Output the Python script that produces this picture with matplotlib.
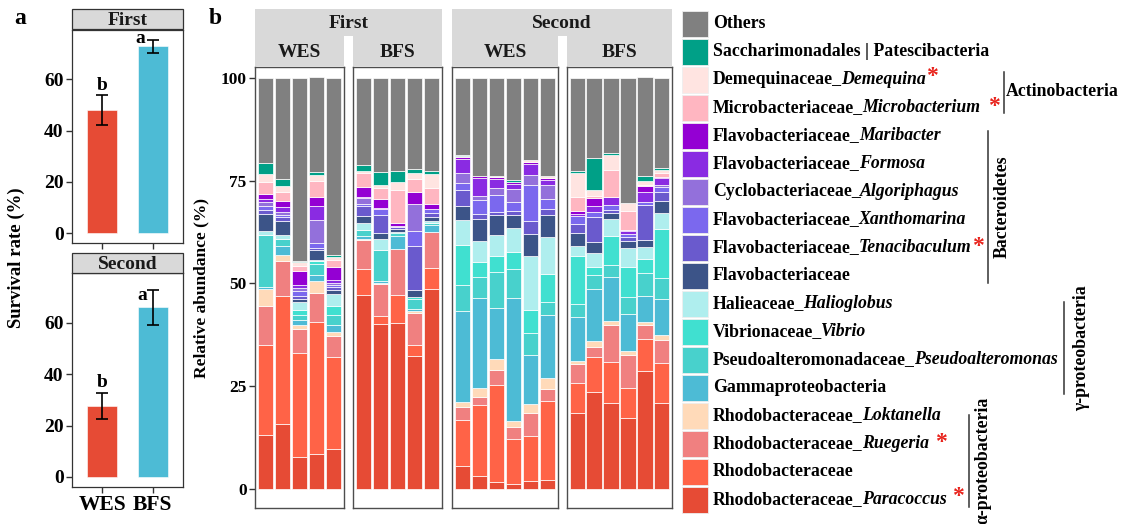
import numpy as np
import matplotlib
matplotlib.use('Agg')
import matplotlib.pyplot as plt
from matplotlib.lines import Line2D
from matplotlib.patches import Rectangle

plt.rcParams['font.family'] = ['Liberation Serif', 'DejaVu Serif']
plt.rcParams['font.weight'] = 'bold'

W, H = 1126, 524

# ---- panel a: survival rate ----
groups = ['WES', 'BFS']
rounds = ['First', 'Second']
survival_first = [48.0, 73.0]
survival_first_sd = [5.8, 2.5]
survival_second = [27.5, 66.0]
survival_second_sd = [5.0, 6.8]
letters_first = ['b', 'a']
letters_second = ['b', 'a']

# ---- panel b: relative abundance (%) ----
# samples: First-WES x5, First-BFS x5, Second-WES x6, Second-BFS x6
facet_rounds = ['First', 'First', 'Second', 'Second']
facet_groups = ['WES', 'BFS', 'WES', 'BFS']
facet_sizes = [5, 5, 6, 6]

paracoccus = [13.1, 15.8, 7.7, 8.5, 9.7, 47.2, 40.2, 40.4, 32.4, 48.6, 5.6, 3.2, 1.7, 1.2, 1.9, 2.2, 18.4, 23.5, 20.9, 17.2, 28.6, 20.9]
rhodobacteraceae = [21.9, 31.1, 25.3, 32.2, 22.4, 6.4, 1.8, 6.7, 2.7, 5.2, 11.2, 17.3, 23.6, 11.0, 11.0, 19.3, 7.5, 8.5, 9.9, 7.3, 7.9, 9.7]
ruegeria = [9.5, 8.5, 5.8, 6.9, 5.2, 6.9, 7.9, 11.2, 7.7, 8.8, 3.2, 1.8, 3.7, 2.8, 5.6, 2.8, 4.5, 2.5, 9.0, 8.1, 3.5, 5.7]
loktanella = [4.1, 1.6, 1.1, 3.0, 0.8, 0.4, 0.2, 0.0, 0.4, 0.0, 1.2, 2.3, 2.7, 1.5, 2.3, 2.8, 0.7, 1.4, 1.1, 1.0, 0.6, 1.1]
gammaproteobacteria = [0.4, 2.0, 1.3, 1.5, 1.9, 0.5, 0.6, 3.1, 0.6, 1.6, 22.2, 21.8, 12.2, 30.0, 11.8, 15.3, 10.8, 12.8, 10.6, 9.0, 6.4, 8.8]
pseudoalteromonas = [12.7, 1.8, 1.0, 2.7, 2.4, 1.5, 7.5, 0.8, 2.4, 0.6, 6.3, 5.2, 8.8, 7.1, 5.3, 3.0, 3.2, 3.4, 3.0, 4.2, 5.5, 5.0]
vibrio = [0.0, 0.0, 1.3, 0.7, 2.2, 0.0, 0.0, 0.4, 0.5, 0.0, 9.6, 3.7, 3.9, 4.0, 5.7, 7.0, 11.6, 1.9, 6.9, 7.3, 3.4, 12.1]
halioglobus = [1.1, 0.9, 1.9, 0.3, 2.9, 1.8, 2.6, 0.0, 0.0, 0.4, 6.1, 5.0, 5.1, 5.9, 13.0, 8.8, 2.4, 3.4, 4.2, 4.6, 2.9, 3.9]
flavobacteriaceae = [4.1, 3.4, 0.8, 2.3, 1.0, 1.6, 1.5, 0.5, 1.8, 0.9, 3.4, 5.4, 4.9, 3.2, 5.3, 5.4, 3.2, 2.6, 1.5, 1.5, 1.8, 2.8]
tenacibaculum = [1.0, 1.0, 0.8, 0.6, 0.6, 2.4, 4.3, 0.5, 10.7, 1.1, 3.9, 1.2, 0.7, 1.0, 3.2, 1.6, 2.1, 6.2, 0.8, 1.0, 8.5, 2.2]
xanthomarina = [0.8, 0.6, 1.1, 1.1, 0.4, 0.6, 1.4, 0.0, 3.5, 1.0, 1.8, 3.3, 4.3, 2.0, 8.7, 2.2, 1.9, 1.2, 1.1, 0.9, 0.8, 1.2]
algoriphagus = [1.0, 0.6, 0.8, 5.7, 0.6, 1.4, 0.0, 0.4, 6.5, 0.0, 2.4, 1.1, 1.6, 3.2, 2.5, 3.4, 0.0, 0.0, 0.0, 0.0, 0.0, 0.6]
formosa = [0.8, 1.2, 0.8, 3.2, 0.8, 0.4, 0.4, 0.0, 0.0, 0.0, 3.4, 4.3, 2.2, 1.3, 2.8, 1.3, 0.6, 1.4, 1.9, 0.6, 2.2, 1.6]
maribacter = [1.3, 1.5, 3.4, 2.4, 3.2, 2.3, 2.0, 0.6, 3.1, 1.2, 0.5, 0.4, 0.5, 0.5, 0.3, 0.4, 0.6, 2.0, 0.2, 0.3, 1.5, 0.2]
microbacterium = [2.9, 2.2, 1.2, 3.8, 1.6, 3.4, 2.8, 8.0, 3.0, 3.7, 0.2, 0.0, 0.0, 0.0, 0.0, 0.0, 3.6, 0.4, 6.5, 4.5, 0.2, 1.0]
demequina = [2.0, 1.4, 0.8, 1.5, 0.8, 0.6, 0.6, 2.1, 1.6, 3.5, 0.0, 0.2, 0.3, 0.0, 0.6, 0.6, 5.7, 1.4, 3.7, 2.0, 1.1, 0.8]
saccharimonadales = [2.6, 1.8, 0.3, 0.6, 0.4, 1.4, 3.2, 2.6, 0.8, 0.8, 0.2, 0.0, 0.0, 0.4, 0.0, 0.0, 0.4, 7.8, 0.5, 0.0, 1.1, 0.4]
others = [20.7, 24.6, 44.6, 23.1, 43.0, 21.1, 23.0, 22.7, 22.3, 22.5, 18.8, 23.8, 23.8, 24.8, 19.9, 23.9, 22.8, 19.6, 18.2, 30.4, 24.1, 21.9]

# bottom -> top stacking order, with legend text (plain part, italic part)
taxa = [
    (paracoccus, '#E64B35', 'Rhodobacteraceae_', 'Paracoccus'),
    (rhodobacteraceae, '#FF6347', 'Rhodobacteraceae', ''),
    (ruegeria, '#F08080', 'Rhodobacteraceae_', 'Ruegeria'),
    (loktanella, '#FFDAB9', 'Rhodobacteraceae_', 'Loktanella'),
    (gammaproteobacteria, '#4DBBD5', 'Gammaproteobacteria', ''),
    (pseudoalteromonas, '#48D1CC', 'Pseudoalteromonadaceae_', 'Pseudoalteromonas'),
    (vibrio, '#40E0D0', 'Vibrionaceae_', 'Vibrio'),
    (halioglobus, '#AFEEEE', 'Halieaceae_', 'Halioglobus'),
    (flavobacteriaceae, '#3C5488', 'Flavobacteriaceae', ''),
    (tenacibaculum, '#6A5ACD', 'Flavobacteriaceae_', 'Tenacibaculum'),
    (xanthomarina, '#7B68EE', 'Flavobacteriaceae_', 'Xanthomarina'),
    (algoriphagus, '#9370DB', 'Cyclobacteriaceae_', 'Algoriphagus'),
    (formosa, '#8A2BE2', 'Flavobacteriaceae_', 'Formosa'),
    (maribacter, '#9400D3', 'Flavobacteriaceae_', 'Maribacter'),
    (microbacterium, '#FFB6C1', 'Microbacteriaceae_', 'Microbacterium'),
    (demequina, '#FFE4E1', 'Demequinaceae_', 'Demequina'),
    (saccharimonadales, '#00A087', 'Saccharimonadales | Patescibacteria', ''),
    (others, '#808080', 'Others', ''),
]

FS = 12.8
STRIP = '#D9D9D9'


def fx(px):
    return px / W


def fy(py):
    return 1 - py / H


def add_axes_px(x0, y0, x1, y1):
    return fig.add_axes([fx(x0), fy(y1), fx(x1) - fx(x0), fy(y0) - fy(y1)])


def strip(x0, y0, x1, y1, label, edge=None, size=14):
    r = Rectangle((fx(x0), fy(y1)), fx(x1) - fx(x0), fy(y0) - fy(y1),
                  transform=fig.transFigure, facecolor=STRIP,
                  edgecolor=edge if edge else 'none', linewidth=0.9)
    fig.add_artist(r)
    fig.text(fx((x0 + x1) / 2), fy((y0 + y1) / 2) - 0.002, label,
             ha='center', va='center', fontsize=size, fontweight='bold',
             color='#1a1a1a')


fig = plt.figure(figsize=(W / 100, H / 100), dpi=100)

# ---------------- panel a ----------------
pa_boxes = [(30, 243, 9, 29), (273, 487, 253, 273)]
pa_vals = [survival_first, survival_second]
pa_sds = [survival_first_sd, survival_second_sd]
pa_letters = [letters_first, letters_second]
pa_letter_pos = [[(1.0, 57.8), (1.76, 76.0)], [(1.0, 36.8), (1.8, 70.4)]]
for i in range(2):
    y0, y1, s0, s1 = pa_boxes[i]
    ax = add_axes_px(72, y0, 183, y1)
    xs = np.arange(1, 3)
    ax.bar(xs, pa_vals[i], width=0.6, color=['#E64B35', '#4DBBD5'],
           edgecolor='white', linewidth=0.4)
    ax.errorbar(xs, pa_vals[i], yerr=pa_sds[i], fmt='none', ecolor='black',
                elinewidth=1.2, capsize=4.5, capthick=1.2)
    for (lx, ly), t in zip(pa_letter_pos[i], pa_letters[i]):
        ax.text(lx, ly, t, ha='center', va='center', fontsize=14,
                fontweight='bold')
    ax.set_xlim(0.4, 2.6)
    ax.set_ylim(-3.9, 79.3)
    ax.set_yticks([0, 20, 40, 60])
    ax.set_xticks(xs)
    ax.set_xticklabels(groups if i == 1 else ['', ''])
    ax.tick_params(labelsize=14, width=1, length=4, color='#333333', pad=2)
    for lab in ax.get_yticklabels() + ax.get_xticklabels():
        lab.set_fontweight('bold')
    ax.tick_params(axis='x', labelsize=15.5, pad=2)
    for sp in ax.spines.values():
        sp.set_color('#333333')
        sp.set_linewidth(0.9)
    strip(72, s0, 183, s1, rounds[i], edge='#333333')

fig.text(fx(16), fy(258), 'Survival rate (%)', rotation=90, ha='center',
         va='center', fontsize=13.5, fontweight='bold')
fig.text(fx(20), fy(18), 'a', ha='center', va='center', fontsize=17,
         fontweight='bold')
fig.text(fx(215), fy(18), 'b', ha='center', va='center', fontsize=17,
         fontweight='bold')

# ---------------- panel b ----------------
facet_x = [(255, 344), (353, 442), (452, 558), (567, 672)]
start = 0
for k, n in enumerate(facet_sizes):
    x0, x1 = facet_x[k]
    ax = add_axes_px(x0, 67, x1, 508)
    xs = np.arange(1, n + 1)
    bottom = np.zeros(n)
    for vals, col, _, _ in taxa:
        v = np.array(vals[start:start + n])
        ax.bar(xs, v, bottom=bottom, width=0.9, color=col,
               edgecolor='white', linewidth=0.5)
        bottom += v
    start += n
    ax.set_xlim(0.4, n + 0.6)
    ax.set_ylim(-4.6, 102.6)
    ax.set_xticks([])
    if k == 0:
        ax.set_yticks([0, 25, 50, 75, 100])
        ax.tick_params(axis='y', labelsize=12.5, width=1, length=4,
                       color='#333333', pad=2)
        for lab in ax.get_yticklabels():
            lab.set_fontweight('bold')
        ax.set_ylabel('Relative abundance (%)', fontsize=12.5,
                      fontweight='bold', labelpad=8)
    else:
        ax.set_yticks([])
    for sp in ax.spines.values():
        sp.set_color('#4d4d4d')
        sp.set_linewidth(1.0)
    strip(x0, 36, x1, 66, facet_groups[k])

strip(255, 9, 442, 36, 'First')
strip(452, 9, 672, 36, 'Second')

# ---------------- legend ----------------
fig.canvas.draw()
renderer = fig.canvas.get_renderer()
legend_items = taxa[::-1]
for j, (_, col, plain, ital) in enumerate(legend_items):
    cy = 24 + j * 28
    fig.add_artist(Rectangle((fx(682), fy(cy + 13)), fx(26), 26 / H,
                             transform=fig.transFigure, facecolor=col,
                             edgecolor='#eeeeee', linewidth=0.6))
    t = fig.text(fx(713), fy(cy), plain, ha='left', va='center',
                 fontsize=FS, fontweight='bold')
    if ital:
        bb = t.get_window_extent(renderer)
        fig.text((bb.x1 - 1) / W, fy(cy), ital, ha='left', va='center',
                 fontsize=FS, fontweight='bold', style='italic')

# significance stars
for sx, sy in [(932, 77), (994, 106), (978, 246), (941, 442), (958, 496)]:
    fig.text(fx(sx), fy(sy), '*', ha='center', va='center', fontsize=17,
             color='#E8231C', fontweight='bold')

# phylum brackets
brackets = [
    (1004, 72, 113),
    (988, 131, 283),
    (1064, 302, 394),
    (969, 415, 507),
]
for bx, b0, b1 in brackets:
    fig.add_artist(Line2D([fx(bx), fx(bx)], [fy(b0), fy(b1)],
                          transform=fig.transFigure, color='#333333',
                          linewidth=1.1))
fig.text(fx(1006), fy(92), 'Actinobacteria', ha='left', va='center',
         fontsize=FS, fontweight='bold')
fig.text(fx(1002), fy(207), 'Bacteroidetes', rotation=90, ha='center',
         va='center', fontsize=FS, fontweight='bold')
fig.text(fx(1082), fy(348), 'γ-proteobacteria', rotation=90, ha='center',
         va='center', fontsize=FS, fontweight='bold')
fig.text(fx(983), fy(460), 'α-proteobacteria', rotation=90, ha='center',
         va='center', fontsize=FS, fontweight='bold')

fig.savefig('out.png', dpi=100)
